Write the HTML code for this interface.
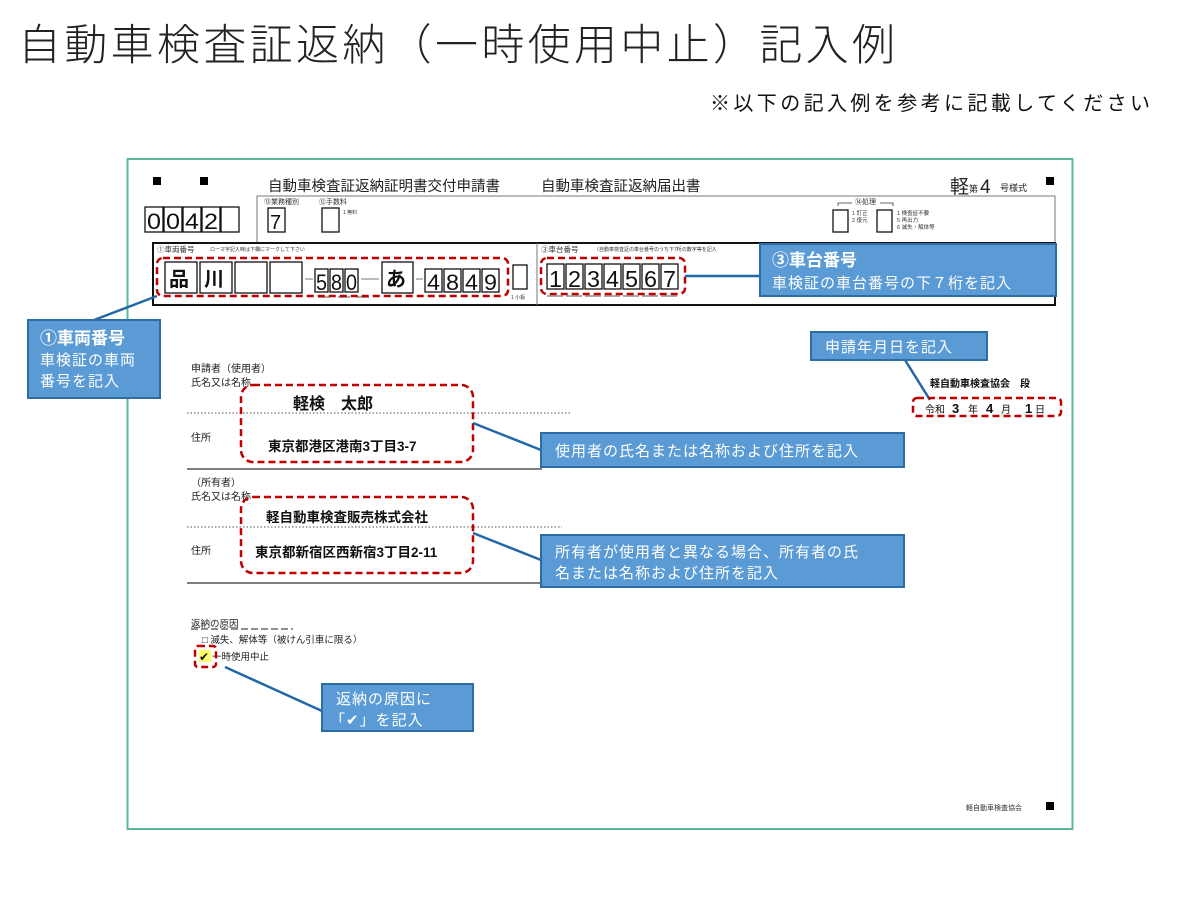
<!DOCTYPE html>
<html><head><meta charset="utf-8"><style>
html,body{margin:0;padding:0;background:#fff;}
svg{display:block;font-family:"Liberation Sans","Noto Sans CJK JP",sans-serif;}
.cb{fill:#fff;stroke:#111;stroke-width:1.3}
.rd{fill:none;stroke:#c00000;stroke-width:2.5;stroke-dasharray:7,4}
.co{fill:#5b9bd5;stroke:#2e6da4;stroke-width:2}
.ln{stroke:#2268a8;stroke-width:2.5}
.wt{fill:#fff}
</style></head><body>
<svg width="1200" height="900" viewBox="0 0 1200 900">
<text x="18" y="60" font-size="43" font-weight="300" fill="#222" textLength="877" lengthAdjust="spacing">自動車検査証返納（一時使用中止）記入例</text>
<text x="710" y="110" font-size="20" fill="#111" textLength="440" lengthAdjust="spacing">※以下の記入例を参考に記載してください</text>

<rect x="127.5" y="159" width="945" height="670" fill="#fff" stroke="#5cb89a" stroke-width="2"/>
<rect x="153" y="177" width="8" height="8" fill="#000"/>
<rect x="200" y="177" width="8" height="8" fill="#000"/>
<rect x="1046" y="177" width="8" height="8" fill="#000"/>
<rect x="1046" y="802" width="8" height="8" fill="#000"/>
<text x="268" y="191" font-size="14.5" fill="#222">自動車検査証返納証明書交付申請書</text>
<text x="541" y="191" font-size="14.5" fill="#222">自動車検査証返納届出書</text>
<text x="950" y="193" font-size="19" fill="#222">軽</text><text x="969" y="192" font-size="9" fill="#222">第</text><text x="980" y="193" font-size="19" fill="#222">4</text><text x="1000" y="191" font-size="9" fill="#222">号様式</text>

<path d="M257 243 V196 H1055 V243" fill="none" stroke="#777" stroke-width="1"/>
<text x="264" y="204" font-size="7" fill="#333">⑬業務種別</text>
<text x="319" y="204" font-size="7" fill="#333">⑫手数料</text>
<rect class="cb" x="268" y="208" width="17" height="24"/><text x="270" y="229" font-size="20" fill="#111">7</text>
<rect class="cb" x="322" y="208" width="17" height="24"/>
<text x="343" y="214" font-size="5" fill="#333">1 無料</text>
<text x="855" y="204" font-size="7" fill="#333">⑭処理</text>
<path d="M838 206 V203 H852 M880 203 H893 V206" fill="none" stroke="#333" stroke-width="0.8"/>
<rect class="cb" x="833" y="210" width="15" height="22"/>
<text x="852" y="215" font-size="5.5" fill="#333">1 訂正</text><text x="852" y="222" font-size="5.5" fill="#333">2 復元</text>
<rect class="cb" x="877" y="210" width="15" height="22"/>
<text x="897" y="215" font-size="5.5" fill="#333">1 検査証不要</text><text x="897" y="222" font-size="5.5" fill="#333">5 再出力</text><text x="897" y="229" font-size="5.5" fill="#333">6 滅失・解体等</text>

<g font-size="22" fill="#111">
<rect class="cb" x="145" y="207" width="18" height="25"/><text x="147" y="229" textLength="14" lengthAdjust="spacingAndGlyphs">0</text>
<rect class="cb" x="164" y="207" width="18" height="25"/><text x="166" y="229" textLength="14" lengthAdjust="spacingAndGlyphs">0</text>
<rect class="cb" x="183" y="207" width="18" height="25"/><text x="185" y="229" textLength="14" lengthAdjust="spacingAndGlyphs">4</text>
<rect class="cb" x="202" y="207" width="18" height="25"/><text x="204" y="229" textLength="14" lengthAdjust="spacingAndGlyphs">2</text>
<rect class="cb" x="221" y="207" width="18" height="25"/>
</g>

<rect x="153" y="243" width="902" height="62" fill="none" stroke="#111" stroke-width="2"/>
<line x1="537" y1="243" x2="537" y2="305" stroke="#777" stroke-width="1"/>
<text x="157" y="252" font-size="7.5" fill="#333">①車両番号</text>
<text x="210" y="251" font-size="5" fill="#333">ローマ字記入時は下欄にマークして下さい</text>
<text x="541" y="252" font-size="7.5" fill="#333">③車台番号</text>
<text x="594" y="251" font-size="5" fill="#333">（自動車検査証の車台番号のうち下7桁の数字等を記入</text>

<g fill="#111">
<rect class="cb" x="165" y="262" width="32" height="31"/><text x="169" y="286" font-size="20" font-weight="bold">品</text>
<rect class="cb" x="200" y="262" width="32" height="31"/><text x="204" y="286" font-size="20" font-weight="bold">川</text>
<rect class="cb" x="235" y="262" width="32" height="31"/>
<rect class="cb" x="270" y="262" width="32" height="31"/>
<line x1="305" y1="279" x2="313" y2="279" stroke="#777"/>
<g font-size="22">
<rect class="cb" x="315" y="269" width="13" height="23"/><text x="316" y="290" textLength="11" lengthAdjust="spacingAndGlyphs">5</text>
<rect class="cb" x="330" y="269" width="13" height="23"/><text x="331" y="290" textLength="11" lengthAdjust="spacingAndGlyphs">8</text>
<rect class="cb" x="345" y="269" width="13" height="23"/><text x="346" y="290" textLength="11" lengthAdjust="spacingAndGlyphs">0</text>
</g>
<line x1="361" y1="279" x2="379" y2="279" stroke="#777"/>
<rect class="cb" x="382" y="262" width="31" height="31"/><text x="386" y="286" font-size="20" font-weight="bold">あ</text>
<line x1="416" y1="279" x2="423" y2="279" stroke="#777"/>
<g font-size="22">
<rect class="cb" x="425" y="269" width="17" height="23"/><text x="427" y="290" textLength="13" lengthAdjust="spacingAndGlyphs">4</text>
<rect class="cb" x="444" y="269" width="17" height="23"/><text x="446" y="290" textLength="13" lengthAdjust="spacingAndGlyphs">8</text>
<rect class="cb" x="463" y="269" width="17" height="23"/><text x="465" y="290" textLength="13" lengthAdjust="spacingAndGlyphs">4</text>
<rect class="cb" x="482" y="269" width="17" height="23"/><text x="484" y="290" textLength="13" lengthAdjust="spacingAndGlyphs">9</text>
</g>
<rect class="cb" x="513" y="265" width="14" height="24"/>
<text x="511" y="299" font-size="5" fill="#333">1 小板</text>
<g fill="#aaa"><rect x="318" y="296" width="12" height="2"/><rect x="338" y="296" width="12" height="2"/><rect x="357" y="296" width="12" height="2"/></g>
<g font-size="23">
<rect class="cb" x="547" y="264" width="17" height="25"/><text x="549" y="287" textLength="13" lengthAdjust="spacingAndGlyphs">1</text>
<rect class="cb" x="566" y="264" width="17" height="25"/><text x="568" y="287" textLength="13" lengthAdjust="spacingAndGlyphs">2</text>
<rect class="cb" x="585" y="264" width="17" height="25"/><text x="587" y="287" textLength="13" lengthAdjust="spacingAndGlyphs">3</text>
<rect class="cb" x="604" y="264" width="17" height="25"/><text x="606" y="287" textLength="13" lengthAdjust="spacingAndGlyphs">4</text>
<rect class="cb" x="623" y="264" width="17" height="25"/><text x="625" y="287" textLength="13" lengthAdjust="spacingAndGlyphs">5</text>
<rect class="cb" x="642" y="264" width="17" height="25"/><text x="644" y="287" textLength="13" lengthAdjust="spacingAndGlyphs">6</text>
<rect class="cb" x="661" y="264" width="17" height="25"/><text x="663" y="287" textLength="13" lengthAdjust="spacingAndGlyphs">7</text>
</g>
<g fill="#aaa"><rect x="547" y="295" width="16" height="2"/><rect x="566" y="295" width="16" height="2"/><rect x="585" y="295" width="16" height="2"/><rect x="604" y="295" width="16" height="2"/><rect x="623" y="295" width="16" height="2"/><rect x="642" y="295" width="16" height="2"/><rect x="661" y="295" width="16" height="2"/></g>
</g>
<rect class="rd" x="157" y="258" width="351" height="38" rx="6"/>
<rect class="rd" x="541" y="258" width="144" height="36" rx="6"/>

<line class="ln" x1="685" y1="276" x2="760" y2="276"/>
<rect class="co" x="760" y="244" width="296" height="52"/>
<text class="wt" x="772" y="266" font-size="17" font-weight="bold">③車台番号</text>
<text class="wt" x="772" y="288" font-size="15" letter-spacing="1">車検証の車台番号の下７桁を記入</text>

<line class="ln" x1="157" y1="296" x2="94" y2="320"/>
<rect class="co" x="28" y="320" width="132" height="78"/>
<text class="wt" x="40" y="344" font-size="17" font-weight="bold">①車両番号</text>
<text class="wt" x="40" y="365" font-size="15" letter-spacing="1">車検証の車両</text>
<text class="wt" x="40" y="386" font-size="15" letter-spacing="1">番号を記入</text>

<line class="ln" x1="905" y1="360" x2="930" y2="400"/>
<rect class="co" x="811" y="332" width="176" height="28"/>
<text class="wt" x="825" y="352" font-size="15" letter-spacing="1">申請年月日を記入</text>
<text x="930" y="387" font-size="10" font-weight="bold" fill="#111">軽自動車検査協会　段</text>
<text x="925" y="413" font-size="10" fill="#111">令和</text>
<text x="952" y="413" font-size="13" font-weight="bold" fill="#111">3</text>
<text x="968" y="413" font-size="10" fill="#111">年</text>
<text x="986" y="413" font-size="13" font-weight="bold" fill="#111">4</text>
<text x="1001" y="413" font-size="10" fill="#111">月</text>
<text x="1025" y="413" font-size="13" font-weight="bold" fill="#111">1</text>
<text x="1035" y="413" font-size="10" fill="#111">日</text>
<rect class="rd" x="913" y="398" width="148" height="18" rx="4"/>

<g font-size="10" fill="#222">
<text x="191" y="372">申請者（使用者）</text>
<text x="191" y="386">氏名又は名称</text>
<text x="191" y="441">住所</text>
<text x="191" y="486">（所有者）</text>
<text x="191" y="500">氏名又は名称</text>
<text x="191" y="554">住所</text>
</g>
<line x1="187" y1="413" x2="570" y2="413" stroke="#555" stroke-dasharray="1.5,2"/>
<line x1="187" y1="469" x2="542" y2="469" stroke="#333" stroke-width="1.3"/>
<line x1="187" y1="527" x2="562" y2="527" stroke="#555" stroke-dasharray="1.5,2"/>
<line x1="187" y1="583" x2="542" y2="583" stroke="#333" stroke-width="1.3"/>
<rect class="rd" x="241" y="385" width="232" height="77" rx="12"/>
<text x="293" y="409" font-size="16" font-weight="bold" fill="#111">軽検　太郎</text>
<text x="268" y="451" font-size="13.5" font-weight="bold" fill="#111">東京都港区港南3丁目3-7</text>
<rect class="rd" x="241" y="497" width="232" height="76" rx="12"/>
<text x="266" y="522" font-size="13.5" font-weight="bold" fill="#111">軽自動車検査販売株式会社</text>
<text x="255" y="557" font-size="13.5" font-weight="bold" fill="#111">東京都新宿区西新宿3丁目2-11</text>

<line class="ln" x1="473" y1="423" x2="541" y2="450"/>
<rect class="co" x="541" y="433" width="363" height="34"/>
<text class="wt" x="555" y="456" font-size="15" letter-spacing="1">使用者の氏名または名称および住所を記入</text>
<line class="ln" x1="473" y1="533" x2="541" y2="560"/>
<rect class="co" x="541" y="535" width="363" height="52"/>
<text class="wt" x="555" y="557" font-size="15" letter-spacing="1">所有者が使用者と異なる場合、所有者の氏</text>
<text class="wt" x="555" y="578" font-size="15" letter-spacing="1">名または名称および住所を記入</text>

<text x="191" y="627" font-size="9.5" fill="#222">返納の原因</text>
<line x1="191" y1="629" x2="293" y2="629" stroke="#222" stroke-dasharray="7,3"/>
<text x="202" y="643" font-size="9.5" fill="#222">□ 滅失、解体等（被けん引車に限る）</text>
<rect x="199" y="650" width="12" height="12" fill="#ffff66"/>
<text x="199" y="661" font-size="12" fill="#111">✔</text>
<text x="212" y="660" font-size="9.5" fill="#222">一時使用中止</text>
<rect class="rd" x="195" y="646" width="21" height="21" rx="3"/>
<line class="ln" x1="225" y1="667" x2="322" y2="711"/>
<rect class="co" x="322" y="684" width="151" height="47"/>
<text class="wt" x="336" y="704" font-size="15" letter-spacing="1">返納の原因に</text>
<text class="wt" x="330" y="725" font-size="15" letter-spacing="1">「✔」を記入</text>

<text x="966" y="810" font-size="7" fill="#333">軽自動車検査協会</text>
</svg>
</body></html>
